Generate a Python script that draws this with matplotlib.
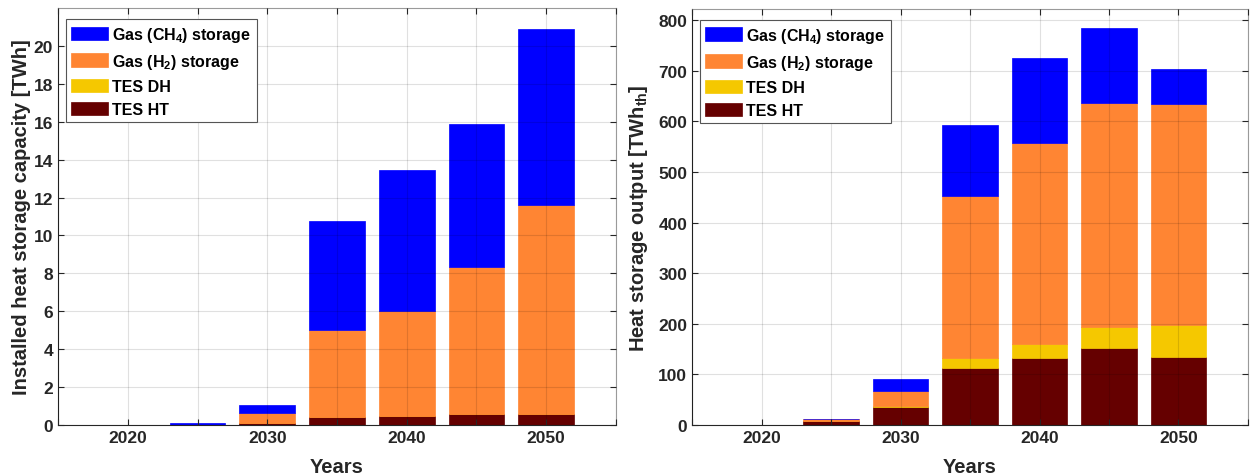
import matplotlib
matplotlib.use("Agg")
import matplotlib.pyplot as plt
import numpy as np

plt.rcParams['font.family'] = ['Liberation Sans', 'DejaVu Sans']
plt.rcParams['font.weight'] = 'bold'
plt.rcParams['mathtext.fontset'] = 'custom'
plt.rcParams['mathtext.rm'] = 'Liberation Sans:bold'
plt.rcParams['mathtext.bf'] = 'Liberation Sans:bold'
plt.rcParams['mathtext.it'] = 'Liberation Sans:bold'

years = [2020, 2025, 2030, 2035, 2040, 2045, 2050]

# installed heat storage capacity [TWh] (stacked: HT, DH, H2, CH4)
cap_tes_ht = [0.0, 0.0, 0.10, 0.40, 0.49, 0.58, 0.56]
cap_tes_dh = [0.0, 0.0, 0.01, 0.01, 0.01, 0.01, 0.01]
cap_h2 = [0.0, 0.0, 0.50, 4.62, 5.52, 7.74, 11.04]
cap_ch4 = [0.0, 0.08, 0.44, 5.72, 7.45, 7.53, 9.27]

# heat storage output [TWh_th]
out_tes_ht = [0.0, 7.0, 36.0, 113.0, 133.0, 152.0, 135.0]
out_tes_dh = [0.0, 0.5, 2.0, 20.0, 27.0, 42.0, 62.0]
out_h2 = [0.0, 4.5, 28.6, 320.0, 398.0, 443.0, 438.0]
out_ch4 = [0.0, 0.3, 24.4, 139.0, 167.0, 147.0, 69.0]

labels = ['Gas (CH$_{4}$) storage', 'Gas (H$_{2}$) storage', 'TES DH', 'TES HT']
colors = ['#0000FF', '#FF8533', '#F5C800', '#650000']
ink = '#262626'

fig = plt.figure(figsize=(12.53, 4.77), dpi=100)
ax1 = fig.add_axes([0.0463, 0.1069, 0.4453, 0.8742])
ax2 = fig.add_axes([0.5523, 0.1069, 0.4437, 0.8721])


def stacked(ax, ht, dh, h2, ch4):
    b0 = np.zeros(len(years))
    handles = []
    for vals, col in zip([ht, dh, h2, ch4], colors[::-1]):
        h = ax.bar(years, vals, width=4, bottom=b0, color=col,
                   edgecolor=col, linewidth=0.5, zorder=2)
        handles.append(h)
        b0 = b0 + np.array(vals)
    return handles[::-1]


for ax, data, ymax, ylab, lp in [
        (ax1, (cap_tes_ht, cap_tes_dh, cap_h2, cap_ch4), 22,
         'Installed heat storage capacity [TWh]', 2),
        (ax2, (out_tes_ht, out_tes_dh, out_h2, out_ch4), 822,
         'Heat storage output [TWh$_{\\rm th}$]', 6)]:
    hs = stacked(ax, *data)
    ax.set_xlim(2015, 2055)
    ax.set_ylim(0, ymax)
    ax.set_xticks(np.arange(2015, 2056, 5))
    ax.set_xticklabels(['' if y % 10 else str(y) for y in range(2015, 2056, 5)])
    ax.grid(True, color='k', alpha=0.12, linewidth=0.8, zorder=3)
    ax.set_axisbelow(False)
    ax.tick_params(axis='both', direction='in', top=True, right=True,
                   labelsize=12.5, colors=ink, length=4, width=0.8)
    for t in ax.get_xticklabels() + ax.get_yticklabels():
        t.set_fontweight('bold')
        t.set_color(ink)
    for s in ax.spines.values():
        s.set_color('#9a9a9a')
        s.set_linewidth(0.8)
    ax.spines['left'].set_color(ink)
    ax.spines['bottom'].set_color(ink)
    ax.set_xlabel('Years', fontsize=14.5, fontweight='bold', color=ink, labelpad=9)
    ax.set_ylabel(ylab, fontsize=14.5, fontweight='bold', color=ink, labelpad=lp)
    leg = ax.legend(hs, labels, loc='upper left',
                    prop={'weight': 'bold', 'size': 11.5},
                    fancybox=False, framealpha=1, edgecolor='#555555',
                    handlelength=2.3, handleheight=0.9, handletextpad=0.25,
                    labelspacing=0.5, borderpad=0.35, borderaxespad=0.3,
                    bbox_to_anchor=(0.005, 0.985))
    leg.get_frame().set_linewidth(0.8)

ax1.set_yticks(np.arange(0, 21, 2))
ax2.set_yticks(np.arange(0, 801, 100))

fig.savefig('out.png', dpi=100)
